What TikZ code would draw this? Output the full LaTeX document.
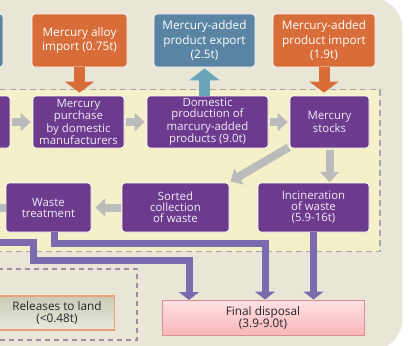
\documentclass[tikz,border=0pt]{standalone}
\usepackage{fontspec}
\setmainfont{Open Sans}
\usetikzlibrary{arrows.meta,calc,shadings}
\definecolor{bg}{HTML}{E9E6D7}
\definecolor{yel}{HTML}{F4F0C9}
\definecolor{dgray}{HTML}{A8A8A8}
\definecolor{purp}{HTML}{6C3B8E}
\definecolor{purpT}{HTML}{F2EAF8}
\definecolor{orng}{HTML}{D96D3A}
\definecolor{blu}{HTML}{5A84A3}
\definecolor{bluarr}{HTML}{6AA6B9}
\definecolor{garr}{HTML}{BBBBBB}
\definecolor{pline}{HTML}{7C6AAF}
\definecolor{pinkT}{HTML}{FFE2E2}
\definecolor{pinkB}{HTML}{F8B6BA}
\definecolor{pinkD}{HTML}{DD8C98}
\definecolor{relT}{HTML}{CACBB7}
\definecolor{relB}{HTML}{E8E8DD}
\definecolor{relD}{HTML}{E9A27A}
\definecolor{ddash}{HTML}{9C8CA4}
\begin{document}
\begin{tikzpicture}[x=1pt,y=-1pt,
  box/.style={draw=white, line width=0.8pt, rounded corners=3pt, align=center, inner sep=0pt,
    font=\fontsize{11.8}{14.5}\selectfont, text=white},
  obox/.style={box, fill=orng},
  bbox/.style={box, fill=blu},
  pbox/.style={box, fill=purp, text=purpT, font=\fontsize{11.4}{11}\selectfont},
  garrow/.style={draw=garr, line width=8pt, -{Triangle[width=18pt,length=10pt]}},
  oarrow/.style={draw=orng, line width=11pt, -{Triangle[width=29pt,length=11pt]}},
  barrow/.style={draw=bluarr, line width=11pt, -{Triangle[width=30pt,length=12pt]}},
  parrow/.style={draw=pline, line width=7pt, line join=miter, -{Triangle[width=20pt,length=8pt]}},
]
\useasboundingbox (0,0) rectangle (409,345);
\fill[white] (0,0) rectangle (409,345);
\fill[bg, rounded corners=30pt] (-40,-2) rectangle (402,350);
% yellow region
\fill[yel] (-20,89.5) rectangle (380,251.5);
\draw[dgray, line width=1.3pt, dash pattern=on 6pt off 4pt] (-20,89.5) -- (380,89.5) -- (380,251.5) -- (-20,251.5);
% lower-left dashed region
\draw[ddash, line width=1.2pt, dash pattern=on 5pt off 4pt] (-20,269) -- (137,269) -- (137,340) -- (-20,340);

% top row
\node[bbox, minimum width=40pt, minimum height=53pt] (leftb) at (-17,40.5) {};
\node[obox, minimum width=95pt, minimum height=53pt] (alloy) at (79.5,40.5) {Mercury alloy\\import (0.75t)};
\node[bbox, minimum width=101pt, minimum height=53pt] (export) at (204.5,40.5) {Mercury-added\\product export\\(2.5t)};
\node[obox, minimum width=102pt, minimum height=53pt] (import) at (324,40.5) {Mercury-added\\product import\\(1.9t)};

% middle row
\node[pbox, minimum width=40pt, minimum height=52pt] (leftp) at (-10,122) {};
\node[pbox, minimum width=91pt, minimum height=52pt] (purchase) at (78.5,122) {Mercury\\purchase\\by domestic\\manufacturers};
\node[pbox, minimum width=121pt, minimum height=52pt] (production) at (207.5,122) {Domestic\\production of\\marcury-added\\products (9.0t)};
\node[pbox, minimum width=79pt, minimum height=52pt] (stocks) at (329.5,122) {Mercury\\stocks};

% bottom row
\node[pbox, minimum width=85pt, minimum height=49pt] (waste) at (48.5,207.5) {Waste\\treatment};
\node[pbox, minimum width=107pt, minimum height=49pt] (sorted) at (175.5,207.5) {Sorted\\collection\\of waste};
\node[pbox, minimum width=111pt, minimum height=49pt] (incin) at (313.5,207.5) {Incineration\\of waste\\(5.9-16t)};

% final & releases
\node[draw=pinkD, line width=1pt, top color=pinkT, bottom color=pinkB, minimum width=202pt, minimum height=35pt,
  align=center, inner sep=0pt, font=\fontsize{11.8}{12}\selectfont, text=black!85] (final) at (263,317.5) {Final disposal\\(3.9-9.0t)};
\node[draw=relD, line width=1.2pt, top color=relT, bottom color=relB, minimum width=115pt, minimum height=34pt,
  align=center, inner sep=0pt, font=\fontsize{11.8}{12}\selectfont, text=black!85] (releases) at (57,313) {Releases to land\\(<0.48t)};

\coordinate (wl) at (-10,207.5);
\coordinate (pl) at (-10,242.5);

% arrows top
\draw[oarrow] (alloy.south) -- ($(alloy.south |- purchase.north)+(0,-3)$);
\draw[barrow] (export.south |- production.north) -- ($(export.south)+(0,1)$);
\draw[oarrow] (import.south) -- ($(import.south |- stocks.north)+(0,-3)$);

% gray arrows
\draw[garrow] ($(leftp.east)+(1.5,0)$) -- ($(purchase.west)+(-2,0)$);
\draw[garrow] ($(purchase.east)+(2,0)$) -- ($(production.west)+(-2,0)$);
\draw[garrow] ($(production.east)+(2,0)$) -- ($(stocks.west)+(-2,0)$);
\draw[garrow] ($(stocks.south)+(0,1.5)$) -- ($(stocks.south |- incin.north)+(0,-0.5)$);
\draw[garrow] ($(stocks.south west)+(-1,-1)$) -- ($(sorted.north east)+(1,-1)$);
\draw[garrow] ($(sorted.west)+(-1,0)$) -- ($(waste.east)+(4,0)$);
\draw[draw=garr, line width=8pt] (waste.west) -- (wl);

% purple lines
\draw[parrow] ($(waste.south)+(5.5,0)$) -- (54,243) -- (265,243) -- ($(final.north)+(2,0)$);
\draw[parrow] (pl) -- (33.5,242.5) -- (33.5,260.5) -- (189,260.5) -- (189,300);
\draw[parrow] (incin.south) -- (incin.south |- final.north);
\end{tikzpicture}
\end{document}
